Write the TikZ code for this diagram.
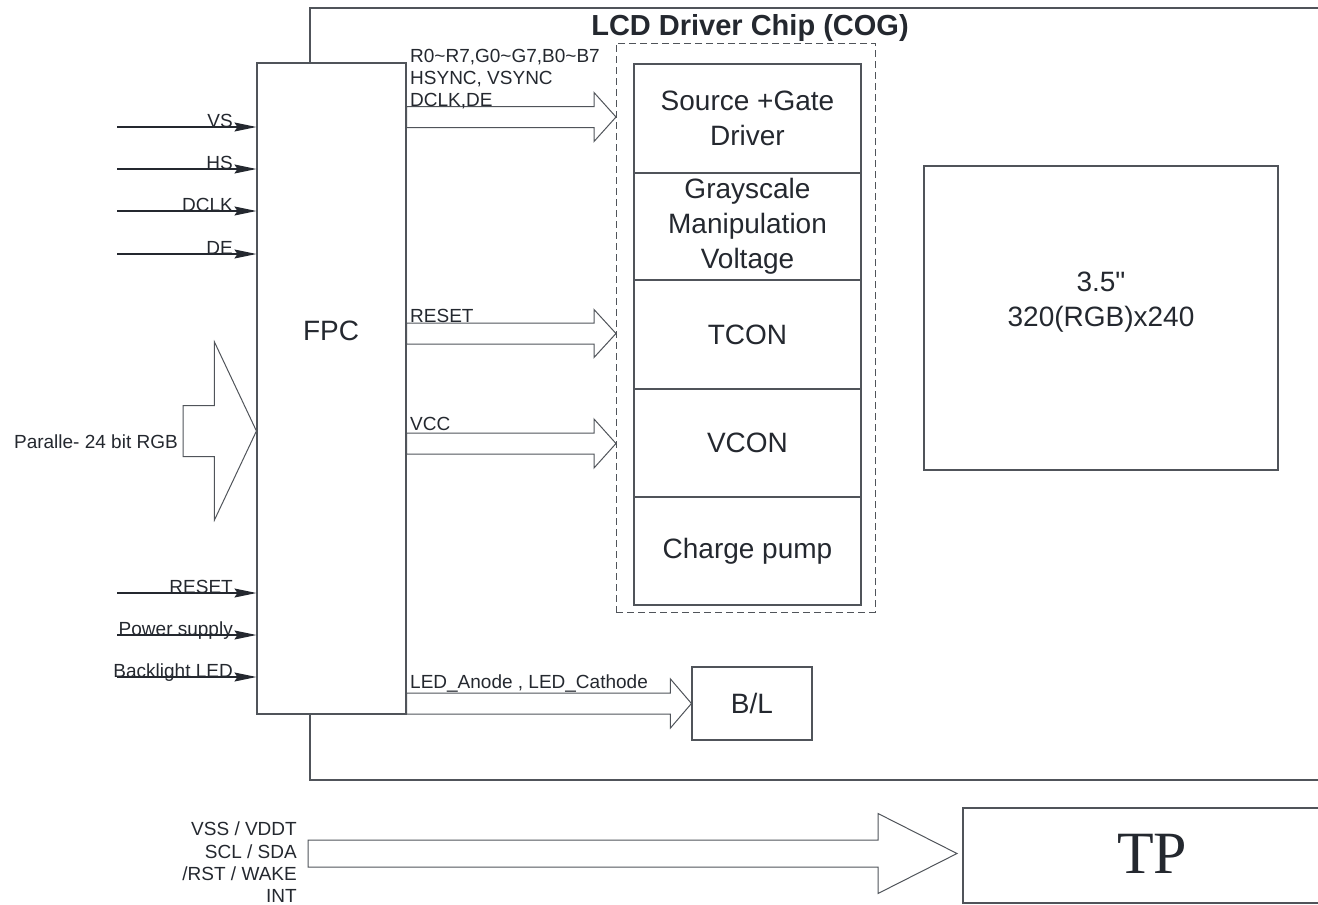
\documentclass[tikz,border=0pt]{standalone}
\usepackage{fontspec}
\setmainfont{Liberation Sans}
\newfontfamily\rawfont{Liberation Sans}
\newfontfamily\tpfont{Liberation Serif}
\usetikzlibrary{arrows.meta,calc}
\definecolor{ink}{RGB}{36,40,47}
\definecolor{wire}{RGB}{80,84,90}
% hollow bus arrow: tail, tip, shaft half height, head half height, head length
\newcommand{\busarrow}[5]{%
  \draw[bus] let \p1=(#1), \p2=(#2) in
    (\x1,\y2+#3pt) -- (\x2-#5pt,\y2+#3pt) -- (\x2-#5pt,\y2+#4pt) -- (\p2)
    -- (\x2-#5pt,\y2-#4pt) -- (\x2-#5pt,\y2-#3pt) -- (\x1,\y2-#3pt) -- cycle;}

\begin{document}
\begin{tikzpicture}[x=1pt, y=-1pt,
    lbl/.style={font=\fontsize{19}{22}\selectfont, text=ink, inner sep=0},
    big/.style={font=\fontsize{28}{35}\selectfont, text=ink, align=center},
    box/.style={draw=wire, line width=1.1, inner sep=0},
    sig/.style={draw=ink, line width=1.2, -{Stealth[length=22pt,width=9pt,inset=3pt]}},
    bus/.style={draw=wire, line width=1}]
  \useasboundingbox (0,0) rectangle (1318,905);

  % chip frame
  \draw[wire, line width=1.1] (1318,8) -- (310,8) -- (310,780) -- (1318,780);
  \node[font=\bfseries\fontsize{29}{34}\selectfont, text=ink, anchor=base] (title) at (750,35) {LCD Driver Chip (COG)};

  % FPC
  \node[box, fill=white, minimum width=149, minimum height=651] (fpc) at (331.5,388.5) {};
  \node[big] (fpctxt) at (331,331) {FPC};

  % inputs
  \coordinate (vsin) at (117,127);
  \coordinate (hsin) at (117,169);
  \coordinate (dclkin) at (117,211);
  \coordinate (dein) at (117,254);
  \coordinate (rstin) at (117,593);
  \coordinate (pwrin) at (117,635);
  \coordinate (ledin) at (117,677);
  \draw[sig] (vsin) -- (vsin -| fpc.west);
  \draw[sig] (hsin) -- (hsin -| fpc.west);
  \draw[sig] (dclkin) -- (dclkin -| fpc.west);
  \draw[sig] (dein) -- (dein -| fpc.west);
  \draw[sig] (rstin) -- (rstin -| fpc.west);
  \draw[sig] (pwrin) -- (pwrin -| fpc.west);
  \draw[sig] (ledin) -- (ledin -| fpc.west);
  \node[lbl, anchor=base east] (vslbl) at (233,127) {VS};
  \node[lbl, anchor=base east] (hslbl) at (233,169) {HS};
  \node[lbl, anchor=base east] (dclklbl) at (233,211) {DCLK};
  \node[lbl, anchor=base east] (delbl) at (233,254) {DE};
  \node[lbl, anchor=base east] (rstlbl) at (233,593) {RESET};
  \node[lbl, anchor=base east] (pwrlbl) at (233,635) {Power supply};
  \node[lbl, anchor=base east] (ledlbl) at (233,677) {Backlight LED};

  % parallel RGB bus
  \coordinate (parin) at (183,431);
  \busarrow{parin}{parin -| fpc.west}{25.5}{89}{42}
  \node[lbl, anchor=base east] (parlbl) at (178,448) {Paralle- 24 bit RGB};

  % driver chip
  \node[draw=wire, line width=1, dash pattern=on 7pt off 4pt, minimum width=259, minimum height=569] (chip) at (745.5,327.5) {};
  \node[box, big, minimum width=227, minimum height=109] (src) at (747.5,118.5) {Source +Gate\\Driver};
  \node[box, big, minimum width=227, minimum height=107] (gray) at (747.5,226.5) {Grayscale\\Manipulation\\Voltage};
  \node[box, big, minimum width=227, minimum height=109] (tcon) at (747.5,334.5) {TCON};
  \node[box, big, minimum width=227, minimum height=108] (vcon) at (747.5,443) {VCON};
  \node[box, big, minimum width=227, minimum height=108] (pump) at (747.5,551) {Charge pump};

  % buses to chip
  \coordinate (rgbtip) at (616,117);
  \coordinate (rsttip) at (616,333.5);
  \coordinate (vcctip) at (616,443.5);
  \busarrow{fpc.east}{rgbtip}{10.5}{24.5}{22}
  \busarrow{fpc.east}{rsttip}{10.5}{24}{22}
  \busarrow{fpc.east}{vcctip}{10.5}{24.5}{22}
  \node[lbl, anchor=base west] (rgblbl) at (410,62) {R0\textasciitilde R7,G0\textasciitilde G7,B0\textasciitilde B7};
  \node[lbl, anchor=base west] (synclbl) at (410,84) {HSYNC, VSYNC};
  \node[lbl, anchor=base west] (clklbl) at (410,106) {DCLK,DE};
  \node[lbl, anchor=base west] (rstbuslbl) at (410,322) {RESET};
  \node[lbl, anchor=base west] (vcclbl) at (410,430) {VCC};

  % panel
  \node[box, minimum width=354, minimum height=304] (lcd) at (1101,318) {};
  \node[big, font=\rawfont\fontsize{28}{35}\selectfont] (lcdtxt) at (1101,302) {3.5"\\320(RGB)x240};

  % backlight
  \node[box, big, minimum width=120, minimum height=73] (bl) at (752,703.5) {B/L};
  \busarrow{fpc.east}{bl.west}{10.5}{24.5}{21}
  \node[lbl, anchor=base west] (bllbl) at (410,688) {LED\_Anode , LED\_Cathode};

  % touch panel
  \node[font=\tpfont\fontsize{60}{70}\selectfont, text=ink] (tp) at (1152,854) {TP};
  \draw[wire, line width=1.1] (1318,808) -| (963,903) -- (1318,903);
  \coordinate (tpin) at (308,853.5);
  \coordinate (tptip) at (957,853.5);
  \busarrow{tpin}{tptip}{13.5}{40}{79}
  \node[lbl, anchor=base east] (tplbla) at (297,835) {VSS / VDDT};
  \node[lbl, anchor=base east] (tplblb) at (297,858) {SCL / SDA};
  \node[lbl, anchor=base east] (tplblc) at (297,880) {/RST / WAKE};
  \node[lbl, anchor=base east] (tplbld) at (297,902) {INT};
\end{tikzpicture}
\end{document}
